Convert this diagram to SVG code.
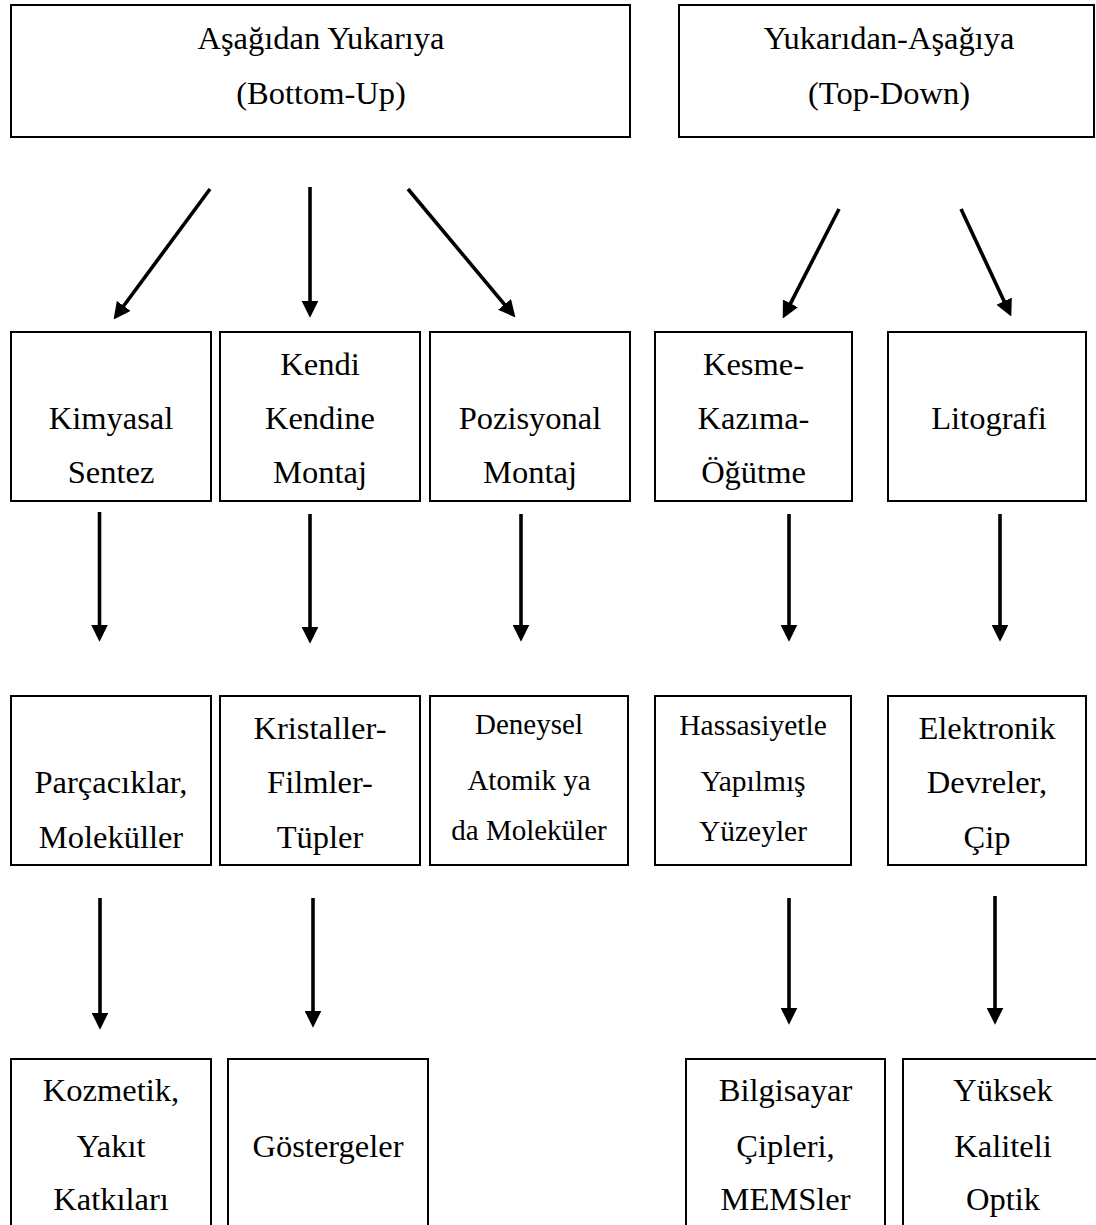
<svg xmlns="http://www.w3.org/2000/svg" width="1096" height="1225" viewBox="0 0 1096 1225">
<style>
.box{fill:#fff;stroke:#000;stroke-width:2}
.t{font-family:"Liberation Serif","Times New Roman",serif;font-size:32.5px;fill:#000;text-anchor:middle}
.s1{font-size:29px}
.s2{font-size:29.5px}
.c{stroke:#000;stroke-width:3.6;fill:none;marker-end:url(#ah)}
</style>
<defs>
<marker id="ah" markerUnits="userSpaceOnUse" markerWidth="17" markerHeight="17" viewBox="0 0 16 16" refX="6" refY="8" orient="auto">
<path d="M0,0 L16,8 L0,16 z" fill="#000"/>
</marker>
</defs>
<rect width="1096" height="1225" fill="#fff"/>
<g id="connectors">
<line class="c" x1="210" y1="189" x2="119.9" y2="311"/>
<line class="c" x1="310" y1="187" x2="310" y2="307"/>
<line class="c" x1="408" y1="189" x2="508.6" y2="309.3"/>
<line class="c" x1="839" y1="209" x2="787.6" y2="309.1"/>
<line class="c" x1="961" y1="209" x2="1006.8" y2="306.9"/>
<line class="c" x1="99.5" y1="512" x2="99.5" y2="631"/>
<line class="c" x1="310" y1="514" x2="310" y2="633"/>
<line class="c" x1="521" y1="514" x2="521" y2="631"/>
<line class="c" x1="789" y1="514" x2="789" y2="631"/>
<line class="c" x1="1000" y1="514" x2="1000" y2="631"/>
<line class="c" x1="100" y1="898" x2="100" y2="1019"/>
<line class="c" x1="313" y1="898" x2="313" y2="1017"/>
<line class="c" x1="789" y1="898" x2="789" y2="1014"/>
<line class="c" x1="995" y1="896" x2="995" y2="1014"/>
</g>
<g id="n-bottomup"><rect class="box" x="11" y="5" width="619" height="132"/>
<text class="t" x="321" y="49">Aşağıdan Yukarıya</text><text class="t" x="321" y="104">(Bottom-Up)</text></g>
<g id="n-topdown"><rect class="box" x="679" y="5" width="415" height="132"/>
<text class="t" x="889" y="49">Yukarıdan-Aşağıya</text><text class="t" x="889" y="104">(Top-Down)</text></g>

<g id="n-kimyasal"><rect class="box" x="11" y="332" width="200" height="169"/>
<text class="t" x="111" y="429">Kimyasal</text><text class="t" x="111" y="483">Sentez</text></g>
<g id="n-kendi"><rect class="box" x="220" y="332" width="200" height="169"/>
<text class="t" x="320" y="375">Kendi</text><text class="t" x="320" y="429">Kendine</text><text class="t" x="320" y="483">Montaj</text></g>
<g id="n-pozisyonal"><rect class="box" x="430" y="332" width="200" height="169"/>
<text class="t" x="530" y="429">Pozisyonal</text><text class="t" x="530" y="483">Montaj</text></g>
<g id="n-kesme"><rect class="box" x="655" y="332" width="197" height="169"/>
<text class="t" x="753.5" y="375">Kesme-</text><text class="t" x="753.5" y="429">Kazıma-</text><text class="t" x="753.5" y="483">Öğütme</text></g>
<g id="n-litografi"><rect class="box" x="888" y="332" width="198" height="169"/>
<text class="t" x="989" y="429">Litografi</text></g>

<g id="n-parcaciklar"><rect class="box" x="11" y="696" width="200" height="169"/>
<text class="t" x="111" y="793">Parçacıklar,</text><text class="t" x="111" y="848">Moleküller</text></g>
<g id="n-kristaller"><rect class="box" x="220" y="696" width="200" height="169"/>
<text class="t" x="320" y="739">Kristaller-</text><text class="t" x="320" y="793">Filmler-</text><text class="t" x="320" y="848">Tüpler</text></g>
<g id="n-deneysel"><rect class="box" x="430" y="696" width="198" height="169"/>
<text class="t s1" x="529" y="734">Deneysel</text><text class="t s1" x="529" y="790">Atomik ya</text><text class="t s1" x="529" y="840">da Moleküler</text></g>
<g id="n-hassasiyetle"><rect class="box" x="655" y="696" width="196" height="169"/>
<text class="t s2" x="753" y="735">Hassasiyetle</text><text class="t s2" x="753" y="791">Yapılmış</text><text class="t s2" x="753" y="841">Yüzeyler</text></g>
<g id="n-elektronik"><rect class="box" x="888" y="696" width="198" height="169"/>
<text class="t" x="987" y="739">Elektronik</text><text class="t" x="987" y="793">Devreler,</text><text class="t" x="987" y="848">Çip</text></g>

<g id="n-kozmetik"><rect class="box" x="11" y="1059" width="200" height="190"/>
<text class="t" x="111" y="1101">Kozmetik,</text><text class="t" x="111" y="1157">Yakıt</text><text class="t" x="111" y="1210">Katkıları</text></g>
<g id="n-gostergeler"><rect class="box" x="228" y="1059" width="200" height="190"/>
<text class="t" x="328" y="1157">Göstergeler</text></g>
<g id="n-bilgisayar"><rect class="box" x="686" y="1059" width="199" height="190"/>
<text class="t" x="785.5" y="1101">Bilgisayar</text><text class="t" x="785.5" y="1157">Çipleri,</text><text class="t" x="785.5" y="1210">MEMSler</text></g>
<g id="n-yuksek"><rect class="box" x="903" y="1059" width="200" height="190"/>
<text class="t" x="1003" y="1101">Yüksek</text><text class="t" x="1003" y="1157">Kaliteli</text><text class="t" x="1003" y="1210">Optik</text></g>
</svg>
